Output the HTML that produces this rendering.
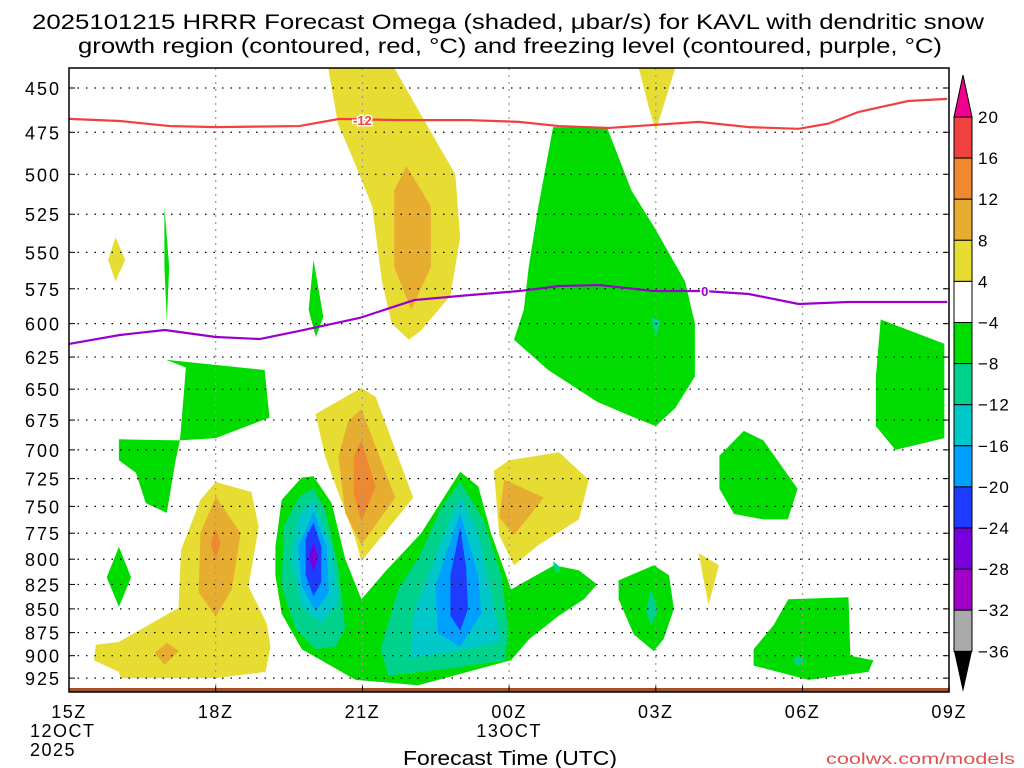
<!DOCTYPE html>
<html><head><meta charset="utf-8"><style>
body{margin:0;background:#fff;}
svg{display:block;font-family:"Liberation Sans",sans-serif;}
</style></head><body>
<svg id="c" width="1024" height="768" viewBox="0 0 1024 768">
<defs><clipPath id="pc"><rect x="69" y="68" width="880" height="624"/></clipPath></defs>
<text x="508" y="29" text-anchor="middle" font-size="21" textLength="952" lengthAdjust="spacingAndGlyphs" fill="#000">2025101215 HRRR Forecast Omega (shaded, μbar/s) for KAVL with dendritic snow</text>
<text x="510" y="53" text-anchor="middle" font-size="21" textLength="864" lengthAdjust="spacingAndGlyphs" fill="#000">growth region (contoured, red, °C) and freezing level (contoured, purple, °C)</text>
<g id="shades" clip-path="url(#pc)"></g>
<g id="grid"></g>
<g id="lines" clip-path="url(#pc)"></g>
<rect x="69" y="68" width="880" height="624" fill="none" stroke="#000" stroke-width="1.5"/>
<g id="axes"></g>
<g id="cbar"></g>
<text x="510" y="765" text-anchor="middle" font-size="20" textLength="214" lengthAdjust="spacingAndGlyphs" fill="#000">Forecast Time (UTC)</text>
<text x="826" y="764" font-size="16" textLength="189" lengthAdjust="spacingAndGlyphs" fill="#e05050">coolwx.com/models</text>
</svg>
<script>
const NS="http://www.w3.org/2000/svg";
const levelColors=["#f04040","#f08830","#e6ad30","#e6dc32","#ffffff","#00dc00","#00d28c","#00c8c8","#00a0ff","#1e3cff","#7800dc","#a000c8","#aaaaaa"];
const levelLabels=["20","16","12","8","4","-4","-8","-12","-16","-20","-24","-28","-32","-36"];
const pressureTicks=[450,475,500,525,550,575,600,625,650,675,700,725,750,775,800,825,850,875,900,925];
const timeTicks=["15Z","18Z","21Z","00Z","03Z","06Z","09Z"];
const timeTickHours=[0,3,6,9,12,15,18];
const regions=[
[3,[[5.3,439],[6.65,439],[7.3,470],[7.9,500],[8.0,540],[7.8,580],[7.2,605],[6.95,612],[6.6,600],[6.4,570],[6.2,520],[5.8,490],[5.5,470]]],
[2,[[6.9,495],[7.4,520],[7.4,560],[7.0,590],[6.65,560],[6.65,510]]],
[3,[[11.65,439],[12.4,439],[12.1,465],[12.0,474],[11.85,460]]],
[5,[[9.9,472],[11.0,472],[11.5,510],[12.0,535],[12.6,570],[12.8,600],[12.8,640],[12.4,665],[12.0,680],[11.5,672],[10.8,660],[9.8,635],[9.1,612],[9.3,590],[9.4,560],[9.6,520]]],
[6,[[11.9,595],[12.1,598],[12.0,610]]],
[5,[[1.95,520],[2.05,560],[2.0,598],[1.95,560]]],
[3,[[0.95,540],[1.15,555],[0.95,570],[0.8,555]]],
[5,[[5.0,555],[5.2,595],[5.05,610],[4.9,590]]],
[5,[[16.6,597],[17.9,615],[17.9,690],[16.9,700],[16.5,680],[16.5,640]]],
[5,[[2.39,633],[1.98,627],[4.0,635],[4.1,673],[3.0,690],[2.27,692],[2.18,709],[2.0,756],[1.57,747],[1.37,720],[1.02,709],[1.02,691],[2.27,692]]],
[5,[[1.02,788],[1.27,818],[1.02,848],[0.77,818]]],
[3,[[3.0,728],[3.73,737],[3.88,769],[3.67,827],[4.04,865],[4.12,890],[4.02,918],[3.0,925],[1.06,925],[1.02,918],[0.51,905],[0.55,888],[1.02,885],[2.24,849],[2.29,791],[2.69,744]]],
[2,[[3.0,741],[3.51,775],[3.33,830],[3.0,858],[2.65,833],[2.69,775]]],
[1,[[3.0,770],[3.1,785],[3.0,800],[2.9,785]]],
[2,[[1.75,897],[2.0,886],[2.25,895],[1.95,910]]],
[5,[[4.22,788],[4.35,744],[4.76,724],[5.0,723],[5.37,747],[5.65,800],[5.98,840],[6.47,812],[7.2,775],[8.0,719],[8.37,732],[8.63,775],[9.04,830],[9.92,806],[10.43,811],[10.8,825],[10.53,840],[10.02,857],[9.41,882],[9.04,905],[7.14,933],[5.86,927],[4.76,893],[4.35,855],[4.22,816]]],
[6,[[5.0,733],[5.24,753],[5.51,808],[5.65,871],[5.45,890],[5.04,893],[4.63,871],[4.35,827],[4.39,769],[4.69,742]]],
[7,[[5.0,744],[5.37,788],[5.51,843],[5.16,865],[4.76,848],[4.53,800],[4.69,759]]],
[8,[[5.0,755],[5.27,788],[5.31,833],[5.04,853],[4.76,827],[4.69,788]]],
[9,[[5.0,765],[5.16,788],[5.16,823],[5.0,837],[4.84,816],[4.84,780]]],
[10,[[5.0,784],[5.1,798],[5.0,812],[4.9,798]]],
[6,[[8.0,728],[8.47,762],[8.84,816],[8.98,871],[8.92,905],[7.82,914],[6.53,922],[6.37,893],[6.73,830],[7.2,794],[7.61,751]]],
[7,[[8.0,742],[8.37,775],[8.63,833],[8.84,885],[7.82,896],[7.0,902],[7.04,855],[7.41,808],[7.76,765]]],
[8,[[8.0,756],[8.37,816],[8.43,855],[8.0,890],[7.55,876],[7.49,827],[7.76,788]]],
[9,[[8.0,770],[8.12,808],[8.16,850],[8.0,873],[7.8,857],[7.8,816]]],
[3,[[5.98,649],[6.27,656],[7.04,742],[5.98,802],[5.86,781],[5.24,706],[5.04,670]]],
[2,[[5.98,666],[6.67,742],[5.98,786],[5.65,756],[5.51,706],[5.71,676]]],
[1,[[5.98,692],[6.27,732],[5.98,764],[5.82,738],[5.82,706]]],
[3,[[9.0,709],[10.02,702],[10.63,726],[10.43,762],[9.61,786],[9.1,806],[8.8,777],[8.69,718]]],
[2,[[8.9,726],[9.71,742],[9.1,777],[8.8,760]]],
[5,[[13.8,684],[14.2,692],[14.9,734],[14.7,762],[14.2,762],[13.6,757],[13.3,734],[13.3,705]]],
[3,[[12.88,794],[13.29,806],[13.08,846],[12.98,821]]],
[5,[[11.24,821],[11.96,806],[12.27,816],[12.37,850],[12.16,882],[11.96,895],[11.55,877],[11.24,840]]],
[6,[[11.9,830],[12.05,852],[11.9,868],[11.8,852]]],
[6,[[9.9,802],[10.05,808],[9.95,816]]],
[5,[[14.71,840],[15.94,838],[15.98,900],[16.45,905],[16.35,918],[15.12,927],[14.0,911],[14.0,893],[14.41,867]]],
[6,[[14.9,900],[15.05,905],[14.9,912],[14.8,905]]]
];
const redHours=[0,1.04,2.06,3.0,4.71,5.53,6.76,8.18,9.2,10.02,11.04,12.88,13.9,14.92,15.53,16.14,17.16,17.96];
const redPress=[467.3,468.5,471.4,472,471.4,467.3,468,468,469,471.4,472.5,469,472,473,470,463.4,457.2,456];
const purpleHours=[0,1.04,1.96,3.0,3.9,4.71,5.94,7.06,8.18,9.2,10.02,10.84,11.96,12.98,13.9,14.92,15.94,17.96];
const purplePress=[615.1,608.4,604.7,609.9,611.4,605.4,595.9,583,579.5,576.6,573.1,572.4,576.6,576.6,578.7,585.8,584.4,584.4];

const X=h=>69+h*48.9;
const Y=p=>88+819*Math.log(p/450);
function mk(tag,attrs,parent){const e=document.createElementNS(NS,tag);for(const k in attrs)e.setAttribute(k,attrs[k]);parent.appendChild(e);return e;}
const sh=document.getElementById('shades');
regions.forEach((r,i)=>{
  const pts=r[1].map(q=>X(q[0]).toFixed(1)+","+Y(q[1]).toFixed(1)).join(" ");
  const e=mk('polygon',{points:pts,fill:levelColors[r[0]]},sh);
  
  
});
const gnd=mk('rect',{x:69,y:688,width:880,height:5,fill:"#a0522d"},sh);


const gr=document.getElementById('grid');
pressureTicks.forEach(p=>{
  const e=mk('line',{x1:69,x2:949,y1:Y(p),y2:Y(p),stroke:"#000","stroke-width":1.2,"stroke-dasharray":"1.5 7"},gr);
  
  
});
timeTickHours.slice(1,6).forEach(h=>{
  const e=mk('line',{x1:X(h),x2:X(h),y1:68,y2:692,stroke:"#999","stroke-width":1.2,"stroke-dasharray":"2 5"},gr);
  
  
});
const ln=document.getElementById('lines');
function pl(hs,ps,col,name){
  const e=mk('polyline',{points:hs.map((h,i)=>X(h)+","+Y(ps[i])).join(" "),fill:"none",stroke:col,"stroke-width":2.2},ln);
  
  
}
pl(redHours,redPress,"#f04040","dgz-minus12-contour");
pl(purpleHours,purplePress,"#9900cc","freezing-level-contour");
const l1=mk('text',{x:X(6.0),y:Y(468)+5,"font-size":13,"font-weight":"bold",fill:"#f04040","text-anchor":"middle",stroke:"#fff","stroke-width":3,"paint-order":"stroke"},ln);
l1.textContent="-12";


const l2=mk('text',{x:X(13.0),y:Y(576.6)+5,"font-size":13,"font-weight":"bold",fill:"#9900cc","text-anchor":"middle",stroke:"#fff","stroke-width":3,"paint-order":"stroke"},ln);
l2.textContent="0";


const ax=document.getElementById('axes');
pressureTicks.forEach(p=>{
  const t=mk('text',{x:61,y:Y(p)+7,"font-size":18,"letter-spacing":2,"text-anchor":"end",fill:"#000"},ax);
  t.textContent=p;
  
  
  mk('line',{x1:69,x2:75,y1:Y(p),y2:Y(p),stroke:"#000"},ax);
  mk('line',{x1:943,x2:949,y1:Y(p),y2:Y(p),stroke:"#000"},ax);
});
timeTickHours.forEach((h,i)=>{
  const t=mk('text',{x:X(h),y:718,"font-size":18,"letter-spacing":1.5,"text-anchor":"middle",fill:"#000"},ax);
  t.textContent=timeTicks[i];
  
  
  mk('line',{x1:X(h),x2:X(h),y1:692,y2:686,stroke:"#000"},ax);
});
[["12OCT",30,737],["2025",30,756],["13OCT",X(9),737]].forEach(a=>{
  const t=mk('text',{x:a[1],y:a[2],"font-size":18,"letter-spacing":1.5,"text-anchor":a[1]==30?"start":"middle",fill:"#000"},ax);
  t.textContent=a[0];
  
  
});
const cb=document.getElementById('cbar');
const cx=954,cw=18,cbTop=117,step=41.1;
mk('polygon',{points:`${cx},${cbTop} ${cx+cw},${cbTop} ${cx+cw/2},75`,fill:"#f0008c",stroke:"#000"},cb);
levelColors.forEach((c,i)=>{
  const r=mk('rect',{x:cx,y:cbTop+i*step,width:cw,height:step,fill:c,stroke:"#000","stroke-width":1},cb);
  
  
});
const cbBot=cbTop+levelColors.length*step;
mk('polygon',{points:`${cx},${cbBot} ${cx+cw},${cbBot} ${cx+cw/2},692`,fill:"#000"},cb);
levelLabels.forEach((l,i)=>{
  const t=mk('text',{x:978,y:cbTop+i*step+6,"font-size":17,"letter-spacing":1,fill:"#000"},cb);
  t.textContent=l.replace("-","−");
  
  
});
</script>
</body></html>
